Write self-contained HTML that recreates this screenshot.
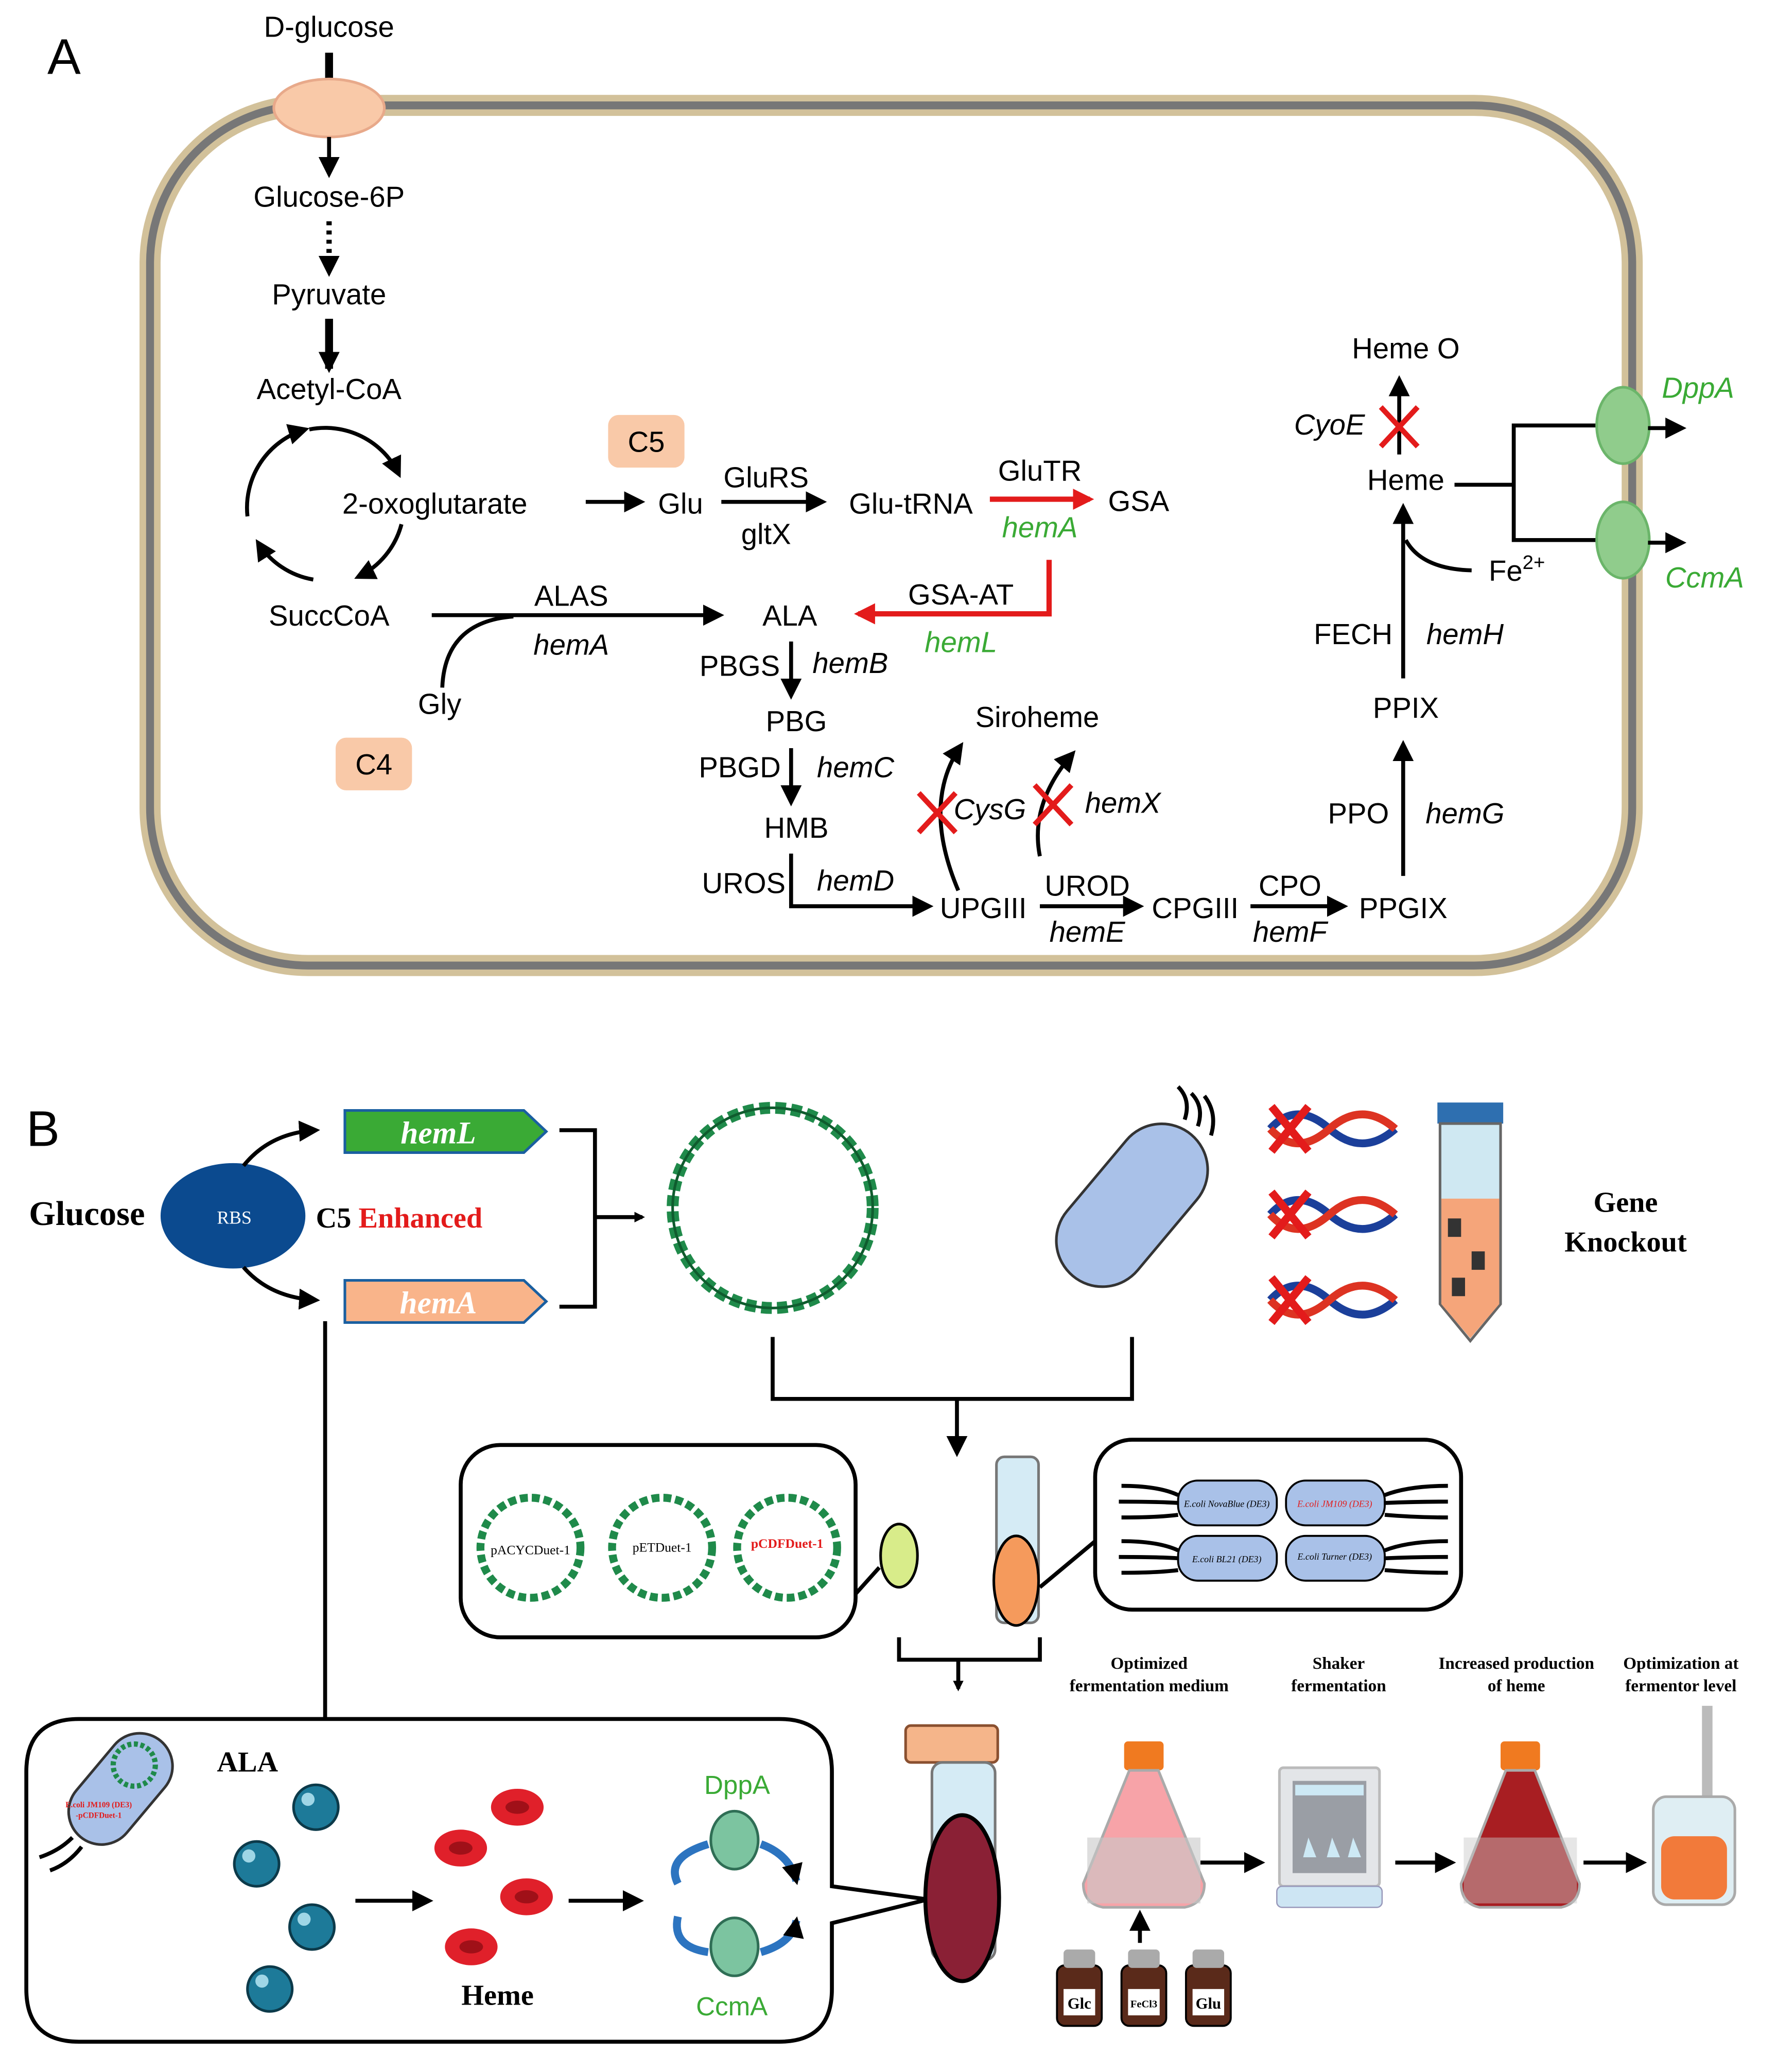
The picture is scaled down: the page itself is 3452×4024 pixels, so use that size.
<!DOCTYPE html>
<html><head><meta charset="utf-8"><style>html,body{margin:0;padding:0;background:#fff}svg{display:block}</style></head><body>
<svg width="3452" height="4024" viewBox="0 0 1350 1573" preserveAspectRatio="none" xmlns="http://www.w3.org/2000/svg">
<defs>
<marker id="ah" markerWidth="8" markerHeight="8" refX="6" refY="4" orient="auto" markerUnits="userSpaceOnUse"><path d="M0,0 L8,4 L0,8 z" fill="#000"/></marker>
<marker id="ahb" viewBox="0 0 10 10" markerWidth="16" markerHeight="16" refX="8" refY="5" orient="auto" markerUnits="userSpaceOnUse"><path d="M0,0 L10,5 L0,10 z" fill="#000"/></marker>
<marker id="ahr" viewBox="0 0 10 10" markerWidth="16" markerHeight="16" refX="8" refY="5" orient="auto" markerUnits="userSpaceOnUse"><path d="M0,0 L10,5 L0,10 z" fill="#e31b1b"/></marker>
</defs>
<style>
.s{font-family:"Liberation Sans",sans-serif;font-size:22px;fill:#000}
.i{font-style:italic}
.g{fill:#3aaa35}
.sr{font-family:"Liberation Serif",serif;font-weight:bold;fill:#000}
.l{stroke:#000;stroke-width:3;fill:none}
</style>
<!-- PANEL A -->
<text x="36" y="56" class="s" style="font-size:38px">A</text>
<rect x="114" y="80" width="1126" height="653" rx="120" fill="#fff" stroke="#d2c19a" stroke-width="16"/>
<rect x="114" y="80" width="1126" height="653" rx="120" fill="none" stroke="#777" stroke-width="6"/>
<text x="250" y="28" class="s" text-anchor="middle">D-glucose</text>
<line x1="250" y1="40" x2="250" y2="62" stroke="#000" stroke-width="6"/>
<ellipse cx="250" cy="82" rx="42" ry="22" fill="#f9c9a8" stroke="#e8a98a" stroke-width="2"/>
<line x1="250" y1="104" x2="250" y2="132" class="l" stroke-width="6" marker-end="url(#ahb)"/>
<text x="250" y="157" class="s" text-anchor="middle">Glucose-6P</text>
<line x1="250" y1="168" x2="250" y2="207" stroke="#000" stroke-width="4" stroke-dasharray="3,4" marker-end="url(#ahb)"/>
<text x="250" y="231" class="s" text-anchor="middle">Pyruvate</text>
<line x1="250" y1="242" x2="250" y2="280" stroke="#000" stroke-width="6" marker-end="url(#ahb)"/>
<text x="250" y="303" class="s" text-anchor="middle">Acetyl-CoA</text>
<!-- cycle -->
<path d="M235,326 A62,62 0 0 1 303,360" class="l" stroke-width="4" marker-end="url(#ahb)"/>
<path d="M305,398 A62,62 0 0 1 272,438" class="l" stroke-width="4" marker-end="url(#ahb)"/>
<path d="M238,440 A62,62 0 0 1 196,412" class="l" stroke-width="4" marker-end="url(#ahb)"/>
<path d="M188,392 A62,62 0 0 1 232,326" class="l" stroke-width="4" marker-end="url(#ahb)"/>
<text x="260" y="390" class="s">2-oxoglutarate</text>
<line x1="445" y1="381" x2="487" y2="381" class="l" stroke-width="4" marker-end="url(#ahb)"/>
<text x="517" y="390" class="s" text-anchor="middle">Glu</text>
<rect x="462" y="315" width="58" height="40" rx="8" fill="#f9c9a8"/>
<text x="491" y="343" class="s" text-anchor="middle">C5</text>
<line x1="548" y1="381" x2="625" y2="381" class="l" stroke-width="4" marker-end="url(#ahb)"/>
<text x="582" y="370" class="s" text-anchor="middle">GluRS</text>
<text x="582" y="413" class="s" text-anchor="middle">gltX</text>
<text x="692" y="390" class="s" text-anchor="middle">Glu-tRNA</text>
<line x1="752" y1="379" x2="828" y2="379" stroke="#e31b1b" stroke-width="4" marker-end="url(#ahr)"/>
<text x="790" y="365" class="s" text-anchor="middle">GluTR</text>
<text x="790" y="408" class="s i g" text-anchor="middle">hemA</text>
<text x="865" y="388" class="s" text-anchor="middle">GSA</text>
<polyline points="797,425 797,466 652,466" fill="none" stroke="#e31b1b" stroke-width="4" marker-end="url(#ahr)"/>
<text x="730" y="459" class="s" text-anchor="middle">GSA-AT</text>
<text x="730" y="495" class="s i g" text-anchor="middle">hemL</text>
<text x="250" y="475" class="s" text-anchor="middle">SuccCoA</text>
<line x1="328" y1="467" x2="547" y2="467" class="l" stroke-width="4" marker-end="url(#ahb)"/>
<path d="M336,522 Q338,472 390,468" class="l" stroke-width="4"/>
<text x="434" y="460" class="s" text-anchor="middle">ALAS</text>
<text x="434" y="497" class="s i" text-anchor="middle">hemA</text>
<text x="334" y="542" class="s" text-anchor="middle">Gly</text>
<rect x="255" y="560" width="58" height="40" rx="8" fill="#f9c9a8"/>
<text x="284" y="588" class="s" text-anchor="middle">C4</text>
<text x="600" y="475" class="s" text-anchor="middle">ALA</text>
<line x1="601" y1="487" x2="601" y2="528" class="l" marker-end="url(#ahb)"/>
<text x="562" y="513" class="s" text-anchor="middle">PBGS</text>
<text x="646" y="511" class="s i" text-anchor="middle">hemB</text>
<text x="605" y="555" class="s" text-anchor="middle">PBG</text>
<line x1="601" y1="568" x2="601" y2="609" class="l" marker-end="url(#ahb)"/>
<text x="562" y="590" class="s" text-anchor="middle">PBGD</text>
<text x="650" y="590" class="s i" text-anchor="middle">hemC</text>
<text x="605" y="636" class="s" text-anchor="middle">HMB</text>
<polyline points="601,648 601,688 706,688" class="l" marker-end="url(#ahb)"/>
<text x="565" y="678" class="s" text-anchor="middle">UROS</text>
<text x="650" y="676" class="s i" text-anchor="middle">hemD</text>
<text x="747" y="697" class="s" text-anchor="middle">UPGIII</text>
<line x1="790" y1="688" x2="866" y2="688" class="l" stroke-width="4" marker-end="url(#ahb)"/>
<text x="826" y="680" class="s" text-anchor="middle">UROD</text>
<text x="826" y="715" class="s i" text-anchor="middle">hemE</text>
<text x="908" y="697" class="s" text-anchor="middle">CPGIII</text>
<line x1="950" y1="688" x2="1021" y2="688" class="l" stroke-width="4" marker-end="url(#ahb)"/>
<text x="980" y="680" class="s" text-anchor="middle">CPO</text>
<text x="980" y="715" class="s i" text-anchor="middle">hemF</text>
<text x="1066" y="697" class="s" text-anchor="middle">PPGIX</text>
<text x="788" y="552" class="s" text-anchor="middle">Siroheme</text>
<path d="M728,676 Q700,610 730,566" class="l" marker-end="url(#ahb)"/>
<path d="M790,650 Q782,610 815,572" class="l" marker-end="url(#ahb)"/>
<path d="M698,602 L726,632 M726,602 L698,632" stroke="#e31b1b" stroke-width="4"/>
<path d="M786,596 L814,626 M814,596 L786,626" stroke="#e31b1b" stroke-width="4"/>
<text x="752" y="622" class="s i" text-anchor="middle">CysG</text>
<text x="853" y="617" class="s i" text-anchor="middle">hemX</text>
<line x1="1066" y1="665" x2="1066" y2="565" class="l" marker-end="url(#ahb)"/>
<text x="1032" y="625" class="s" text-anchor="middle">PPO</text>
<text x="1113" y="625" class="s i" text-anchor="middle">hemG</text>
<text x="1068" y="545" class="s" text-anchor="middle">PPIX</text>
<line x1="1066" y1="515" x2="1066" y2="385" class="l" marker-end="url(#ahb)"/>
<text x="1028" y="489" class="s" text-anchor="middle">FECH</text>
<text x="1113" y="489" class="s i" text-anchor="middle">hemH</text>
<path d="M1118,433 Q1080,432 1068,410" class="l"/>
<text x="1131" y="441" class="s">Fe<tspan dy="-9" style="font-size:15px">2+</tspan></text>
<text x="1068" y="372" class="s" text-anchor="middle">Heme</text>
<line x1="1063" y1="345" x2="1063" y2="288" class="l" marker-end="url(#ahb)"/>
<path d="M1049,309 L1077,339 M1077,309 L1049,339" stroke="#e31b1b" stroke-width="4"/>
<text x="1010" y="330" class="s i" text-anchor="middle">CyoE</text>
<text x="1068" y="272" class="s" text-anchor="middle">Heme O</text>
<polyline points="1105,368 1150,368" class="l"/>
<polyline points="1215,323 1150,323 1150,410 1215,410" class="l"/>
<ellipse cx="1233" cy="323" rx="20" ry="29" fill="#90cc8c" stroke="#6bb56a" stroke-width="2"/>
<ellipse cx="1233" cy="410" rx="20" ry="29" fill="#90cc8c" stroke="#6bb56a" stroke-width="2"/>
<line x1="1252" y1="325" x2="1278" y2="325" class="l" marker-end="url(#ahb)"/>
<line x1="1252" y1="412" x2="1278" y2="412" class="l" marker-end="url(#ahb)"/>
<text x="1290" y="302" class="s i g" text-anchor="middle">DppA</text>
<text x="1295" y="446" class="s i g" text-anchor="middle">CcmA</text>

<!-- PANEL B -->
<text x="20" y="870" class="s" style="font-size:38px">B</text>
<text x="22" y="930" class="sr" style="font-size:26px">Glucose</text>
<ellipse cx="177" cy="923" rx="55" ry="40" fill="#0b4a8f"/>
<text x="178" y="929" class="sr" style="font-size:14px;fill:#fff;font-weight:normal" text-anchor="middle">RBS</text>
<text x="240" y="932" class="sr" style="font-size:22px">C5 <tspan fill="#e31b1b">Enhanced</tspan></text>
<path d="M185,885 Q205,860 240,858" class="l" marker-end="url(#ahb)"/>
<path d="M185,962 Q205,985 240,987" class="l" marker-end="url(#ahb)"/>
<path d="M262,843 L398,843 L415,859 L398,875 L262,875 z" fill="#3aaa35" stroke="#1a5fa0" stroke-width="2"/>
<text x="333" y="868" class="sr i" style="font-size:24px;fill:#fff" text-anchor="middle">hemL</text>
<path d="M262,972 L398,972 L415,988 L398,1004 L262,1004 z" fill="#f9b48a" stroke="#1a5fa0" stroke-width="2"/>
<text x="333" y="997" class="sr i" style="font-size:24px;fill:#fff" text-anchor="middle">hemA</text>
<polyline points="425,858 452,858 452,992 425,992" class="l" stroke-width="2"/>
<line x1="452" y1="924" x2="488" y2="924" class="l" stroke-width="2" marker-end="url(#ah)"/>
<circle cx="587" cy="917" r="76" fill="none" stroke="#1f8a4a" stroke-width="9" stroke-dasharray="8,4"/>
<circle cx="587" cy="917" r="76" fill="none" stroke="#0f5c2e" stroke-width="2"/>
<g transform="rotate(-50 860 915)"><rect x="790" y="880" width="140" height="70" rx="35" fill="#a9c1e8" stroke="#333" stroke-width="2"/></g>
<path d="M900,850 Q905,835 895,825 M910,855 Q915,840 905,830 M920,862 Q925,845 915,832" class="l" stroke-width="2"/>
<g>
<path d="M965,857 Q985,835 1010,857 T1060,857" fill="none" stroke="#1b3f9a" stroke-width="6"/><path d="M965,857 Q985,879 1010,857 T1060,857" fill="none" stroke="#d32" stroke-width="6"/>
<path d="M965,922 Q985,900 1010,922 T1060,922" fill="none" stroke="#1b3f9a" stroke-width="6"/><path d="M965,922 Q985,944 1010,922 T1060,922" fill="none" stroke="#d32" stroke-width="6"/>
<path d="M965,987 Q985,965 1010,987 T1060,987" fill="none" stroke="#1b3f9a" stroke-width="6"/><path d="M965,987 Q985,1009 1010,987 T1060,987" fill="none" stroke="#d32" stroke-width="6"/>
<path d="M966,840 L994,874 M994,840 L966,874 M966,905 L994,939 M994,905 L966,939 M966,970 L994,1004 M994,970 L966,1004" stroke="#e31b1b" stroke-width="6"/>
</g>
<rect x="1092" y="837" width="50" height="16" fill="#2e6fb0"/>
<path d="M1094,853 L1140,853 L1140,990 L1117,1018 L1094,990 z" fill="#cfe8f2" stroke="#666" stroke-width="2"/>
<path d="M1095,910 L1139,910 L1139,990 L1117,1016 L1095,990 z" fill="#f5a57a"/>
<rect x="1100" y="925" width="10" height="14" fill="#333"/><rect x="1118" y="950" width="10" height="14" fill="#333"/><rect x="1103" y="970" width="10" height="14" fill="#333"/>
<text x="1235" y="920" class="sr" style="font-size:22px" text-anchor="middle">Gene</text>
<text x="1235" y="950" class="sr" style="font-size:22px" text-anchor="middle">Knockout</text>
<polyline points="587,1015 587,1062 860,1062 860,1015" class="l"/>
<line x1="727" y1="1062" x2="727" y2="1103" class="l" marker-end="url(#ahb)"/>
<rect x="350" y="1097" width="300" height="146" rx="30" fill="#fff" stroke="#000" stroke-width="3"/>
<g fill="none" stroke="#1f8a4a" stroke-width="6" stroke-dasharray="6,3">
<circle cx="403" cy="1175" r="38"/><circle cx="503" cy="1175" r="38"/><circle cx="598" cy="1175" r="38"/></g>
<text x="403" y="1180" class="sr" style="font-size:10px;font-weight:normal" text-anchor="middle">pACYCDuet-1</text>
<text x="503" y="1178" class="sr" style="font-size:10px;font-weight:normal" text-anchor="middle">pETDuet-1</text>
<text x="598" y="1175" class="sr" style="font-size:10px;fill:#e31b1b" text-anchor="middle">pCDFDuet-1</text>
<path d="M650,1210 L668,1190" class="l" stroke-width="2"/>
<ellipse cx="683" cy="1181" rx="14" ry="24" fill="#d8ec8a" stroke="#000" stroke-width="2"/>
<rect x="757" y="1106" width="32" height="126" rx="6" fill="#d5ebf5" stroke="#777" stroke-width="2"/>
<ellipse cx="772" cy="1200" rx="17" ry="34" fill="#f59a5c" stroke="#000" stroke-width="2"/>
<path d="M790,1205 L832,1170" class="l" stroke-width="2"/>
<rect x="832" y="1093" width="278" height="129" rx="28" fill="#fff" stroke="#000" stroke-width="3"/>
<g fill="#a9c1e8" stroke="#000" stroke-width="1.5">
<rect x="895" y="1124" width="75" height="34" rx="15"/><rect x="977" y="1124" width="75" height="34" rx="15"/>
<rect x="895" y="1166" width="75" height="34" rx="15"/><rect x="977" y="1166" width="75" height="34" rx="15"/></g>
<g class="l" stroke-width="1.5"><path d="M852,1128 Q880,1128 895,1135 M850,1140 Q880,1140 895,1141 M852,1152 Q880,1152 895,1150 M852,1170 Q880,1170 895,1177 M850,1182 Q880,1182 895,1183 M852,1194 Q880,1194 895,1192 M1052,1135 Q1070,1128 1100,1128 M1052,1141 Q1075,1140 1100,1140 M1052,1150 Q1075,1152 1100,1152 M1052,1177 Q1070,1170 1100,1170 M1052,1183 Q1075,1182 1100,1182 M1052,1192 Q1075,1194 1100,1194"/></g>
<text x="932" y="1144" class="sr i" style="font-size:7px;font-weight:normal" text-anchor="middle">E.coli NovaBlue (DE3)</text>
<text x="1014" y="1144" class="sr i" style="font-size:7px;fill:#e31b1b;font-weight:normal" text-anchor="middle">E.coli JM109 (DE3)</text>
<text x="932" y="1186" class="sr i" style="font-size:7px;font-weight:normal" text-anchor="middle">E.coli BL21 (DE3)</text>
<text x="1014" y="1184" class="sr i" style="font-size:7px;font-weight:normal" text-anchor="middle">E.coli Turner (DE3)</text>
<polyline points="683,1243 683,1260 790,1260 790,1243" class="l" stroke-width="2"/>
<line x1="728" y1="1260" x2="728" y2="1282" class="l" stroke-width="2" marker-end="url(#ah)"/>
<line x1="247" y1="1003" x2="247" y2="1333" class="l" stroke-width="2" marker-end="url(#ah)"/>
<path d="M60,1305 L592,1305 Q632,1305 632,1345 L632,1432 L705,1442 L632,1460 L632,1510 Q632,1550 592,1550 L60,1550 Q20,1550 20,1510 L20,1345 Q20,1305 60,1305 z" fill="#fff" stroke="#000" stroke-width="3"/>
<g transform="rotate(-50 90 1360)"><rect x="45" y="1335" width="95" height="50" rx="25" fill="#a9c1e8" stroke="#333" stroke-width="2"/></g>
<circle cx="102" cy="1340" r="16" fill="none" stroke="#1f8a4a" stroke-width="4" stroke-dasharray="3,2"/>
<text x="75" y="1372" class="sr" style="font-size:6px;fill:#e31b1b" text-anchor="middle">E.coli JM109 (DE3)</text>
<text x="75" y="1380" class="sr" style="font-size:6px;fill:#e31b1b" text-anchor="middle">-pCDFDuet-1</text>
<path d="M55,1395 Q45,1405 30,1410 M62,1402 Q52,1415 38,1420" class="l" stroke-width="2"/>
<text x="188" y="1345" class="sr" style="font-size:22px" text-anchor="middle">ALA</text>
<g fill="#1d7a99" stroke="#0c3a4a" stroke-width="2">
<circle cx="240" cy="1372" r="17"/><circle cx="195" cy="1415" r="17"/><circle cx="237" cy="1463" r="17"/><circle cx="205" cy="1510" r="17"/></g>
<g fill="#9fd6e6"><circle cx="234" cy="1366" r="5"/><circle cx="189" cy="1409" r="5"/><circle cx="231" cy="1457" r="5"/><circle cx="199" cy="1504" r="5"/></g>
<line x1="270" y1="1443" x2="326" y2="1443" class="l" marker-end="url(#ahb)"/>
<g fill="#e0202a"><ellipse cx="393" cy="1372" rx="20" ry="14"/><ellipse cx="350" cy="1403" rx="20" ry="14"/><ellipse cx="400" cy="1440" rx="20" ry="14"/><ellipse cx="358" cy="1478" rx="20" ry="14"/></g>
<g fill="#a01018"><ellipse cx="393" cy="1372" rx="9" ry="5"/><ellipse cx="350" cy="1403" rx="9" ry="5"/><ellipse cx="400" cy="1440" rx="9" ry="5"/><ellipse cx="358" cy="1478" rx="9" ry="5"/></g>
<text x="378" y="1522" class="sr" style="font-size:22px" text-anchor="middle">Heme</text>
<line x1="432" y1="1443" x2="486" y2="1443" class="l" marker-end="url(#ahb)"/>
<text x="560" y="1362" style="font-family:'Liberation Sans',sans-serif;font-size:20px;fill:#3aaa35" text-anchor="middle">DppA</text>
<text x="556" y="1530" style="font-family:'Liberation Sans',sans-serif;font-size:20px;fill:#3aaa35" text-anchor="middle">CcmA</text>
<ellipse cx="558" cy="1397" rx="18" ry="22" fill="#7cc4a0" stroke="#2f6e55" stroke-width="2"/>
<ellipse cx="558" cy="1478" rx="18" ry="22" fill="#7cc4a0" stroke="#2f6e55" stroke-width="2"/>
<path d="M538,1400 Q505,1410 515,1430" fill="none" stroke="#2c74c0" stroke-width="6"/>
<path d="M578,1400 Q600,1408 605,1428" fill="none" stroke="#2c74c0" stroke-width="6" marker-end="url(#ahb)"/>
<path d="M515,1455 Q510,1478 538,1482" fill="none" stroke="#2c74c0" stroke-width="6"/>
<path d="M578,1482 Q602,1475 605,1458" fill="none" stroke="#2c74c0" stroke-width="6" marker-end="url(#ahb)"/>
<rect x="688" y="1310" width="70" height="28" rx="4" fill="#f5b58a" stroke="#8a5030" stroke-width="2"/>
<rect x="708" y="1338" width="48" height="150" rx="8" fill="#d5ebf5" stroke="#777" stroke-width="2"/>
<ellipse cx="731" cy="1441" rx="28" ry="63" fill="#8a2035" stroke="#000" stroke-width="3"/>
<g class="sr" style="font-size:13px" text-anchor="middle">
<text x="873" y="1267">Optimized</text><text x="873" y="1284">fermentation medium</text>
<text x="1017" y="1267">Shaker</text><text x="1017" y="1284">fermentation</text>
<text x="1152" y="1267">Increased production</text><text x="1152" y="1284">of heme</text>
<text x="1277" y="1267">Optimization at</text><text x="1277" y="1284">fermentor level</text></g>
<rect x="854" y="1322" width="30" height="22" rx="3" fill="#f07a20"/>
<path d="M858,1344 L880,1344 L915,1430 Q915,1445 900,1448 L838,1448 Q823,1445 823,1430 z" fill="#f7a3a8" stroke="#aaa" stroke-width="2"/>
<rect x="826" y="1395" width="86" height="50" fill="#c8c8c8" opacity="0.6"/>
<line x1="866" y1="1475" x2="866" y2="1453" class="l" marker-end="url(#ahb)"/>
<g fill="#5a2a1a" stroke="#000" stroke-width="1.5">
<rect x="803" y="1492" width="34" height="46" rx="6"/><rect x="852" y="1492" width="34" height="46" rx="6"/><rect x="901" y="1492" width="34" height="46" rx="6"/></g>
<g fill="#aaa"><rect x="808" y="1480" width="24" height="14" rx="3"/><rect x="857" y="1480" width="24" height="14" rx="3"/><rect x="906" y="1480" width="24" height="14" rx="3"/></g>
<g fill="#fff"><rect x="808" y="1510" width="24" height="20"/><rect x="857" y="1510" width="24" height="20"/><rect x="906" y="1510" width="24" height="20"/></g>
<g class="sr" style="font-size:12px" text-anchor="middle"><text x="820" y="1525">Glc</text><text x="869" y="1524" style="font-size:8px">FeCl3</text><text x="918" y="1525">Glu</text></g>
<line x1="912" y1="1414" x2="958" y2="1414" class="l" marker-end="url(#ahb)"/>
<rect x="972" y="1342" width="76" height="90" rx="3" fill="#e3e5e8" stroke="#bbb" stroke-width="2"/>
<rect x="982" y="1352" width="56" height="70" fill="#9a9ea5"/>
<rect x="984" y="1355" width="52" height="8" fill="#cde9f5"/>
<path d="M990,1410 L994,1395 L1000,1410 z M1008,1410 L1012,1395 L1018,1410 z M1024,1410 L1028,1395 L1034,1410 z" fill="#cde9f5"/>
<rect x="970" y="1432" width="80" height="16" rx="4" fill="#cde5f3" stroke="#99b" stroke-width="1"/>
<line x1="1060" y1="1414" x2="1103" y2="1414" class="l" marker-end="url(#ahb)"/>
<rect x="1140" y="1322" width="30" height="22" rx="3" fill="#f07a20"/>
<path d="M1144,1344 L1166,1344 L1200,1430 Q1200,1445 1186,1448 L1124,1448 Q1110,1445 1110,1430 z" fill="#a81e22" stroke="#aaa" stroke-width="2"/>
<rect x="1112" y="1395" width="86" height="50" fill="#c8c8c8" opacity="0.45"/>
<line x1="1203" y1="1414" x2="1248" y2="1414" class="l" marker-end="url(#ahb)"/>
<rect x="1293" y="1295" width="8" height="70" fill="#bbb"/>
<rect x="1256" y="1364" width="62" height="82" rx="10" fill="#dfeef3" stroke="#aaa" stroke-width="2"/>
<rect x="1262" y="1394" width="50" height="48" rx="10" fill="#f27a3a"/>
</svg>
</body></html>
